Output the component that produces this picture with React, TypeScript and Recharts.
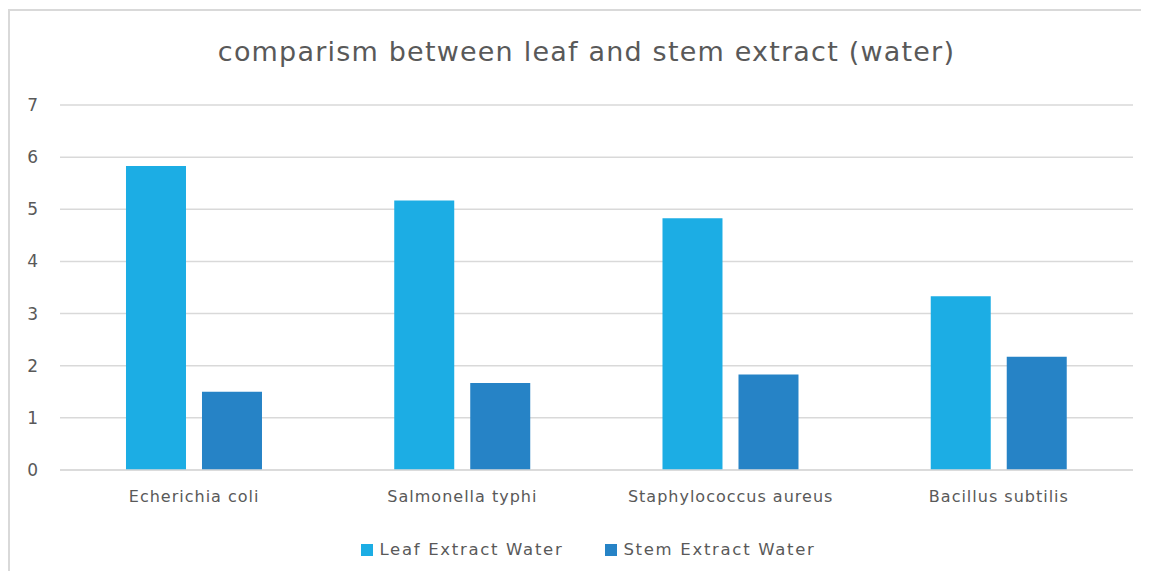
import { BarChart, Bar, XAxis, YAxis, CartesianGrid, Legend } from "recharts"

const categories = ["Echerichia coli", "Salmonella typhi", "Staphylococcus aureus", "Bacillus subtilis"]
const leafExtractWater = [5.83, 5.17, 4.83, 3.33]
const stemExtractWater = [1.5, 1.67, 1.83, 2.17]
const yTicks = [0, 1, 2, 3, 4, 5, 6, 7]

const FONT = "'DejaVu Sans', sans-serif"
const TEXT = "#595959"
const LEAF = "#1CADE4"
const STEM = "#2683C6"

const data = categories.map((name, i) => ({
  name,
  leaf: leafExtractWater[i],
  stem: stemExtractWater[i],
}))

function LegendContent() {
  const items = [
    { label: "Leaf Extract Water", color: LEAF },
    { label: "Stem Extract Water", color: STEM },
  ]
  return (
    <div
      style={{
        display: "flex",
        justifyContent: "center",
        gap: 42,
        paddingLeft: 18,
        fontFamily: FONT,
        fontSize: 16.5,
        letterSpacing: 1.7,
        color: TEXT,
      }}
    >
      {items.map((it) => (
        <div key={it.label} style={{ display: "flex", alignItems: "center" }}>
          <span style={{ width: 12, height: 12, background: it.color, marginRight: 6, display: "inline-block" }} />
          <span>{it.label}</span>
        </div>
      ))}
    </div>
  )
}

export default function App() {
  return (
    <div
      style={{
        position: "relative",
        width: 1141,
        height: 562,
        marginTop: 1,
        borderTop: "2px solid #d9d9d9",
        borderLeft: "2px solid #d9d9d9",
        boxSizing: "border-box",
        background: "#fff",
        overflow: "hidden",
      }}
    >
      <div
        style={{
          position: "absolute",
          top: 25,
          left: 0,
          width: 1153,
          textAlign: "center",
          fontFamily: FONT,
          fontSize: 27,
          letterSpacing: 1.2,
          color: TEXT,
        }}
      >
        comparism between leaf and stem extract (water)
      </div>
      <BarChart
        width={1139}
        height={560}
        data={data}
        margin={{ top: 94, right: 16, bottom: 42, left: 0 }}
        barCategoryGap="24.6%"
        barGap={16}
      >
        <CartesianGrid vertical={false} stroke="#d9d9d9" strokeWidth={1.5} />
        <XAxis
          dataKey="name"
          axisLine={{ stroke: "#d9d9d9", strokeWidth: 1.5 }}
          tickLine={false}
          tickSize={0}
          tickMargin={21}
          height={40}
          tick={{ fill: TEXT, fontFamily: FONT, fontSize: 16, letterSpacing: 1 }}
        />
        <YAxis
          domain={[0, 7]}
          ticks={yTicks}
          axisLine={false}
          tickLine={false}
          tickSize={0}
          tickMargin={22}
          width={50}
          tick={{ fill: TEXT, fontFamily: FONT, fontSize: 17 }}
        />
        <Legend content={<LegendContent />} wrapperStyle={{ top: 529, left: 0, width: 1139 }} />
        <Bar dataKey="leaf" name="Leaf Extract Water" fill={LEAF} isAnimationActive={false} />
        <Bar dataKey="stem" name="Stem Extract Water" fill={STEM} isAnimationActive={false} />
      </BarChart>
    </div>
  )
}
